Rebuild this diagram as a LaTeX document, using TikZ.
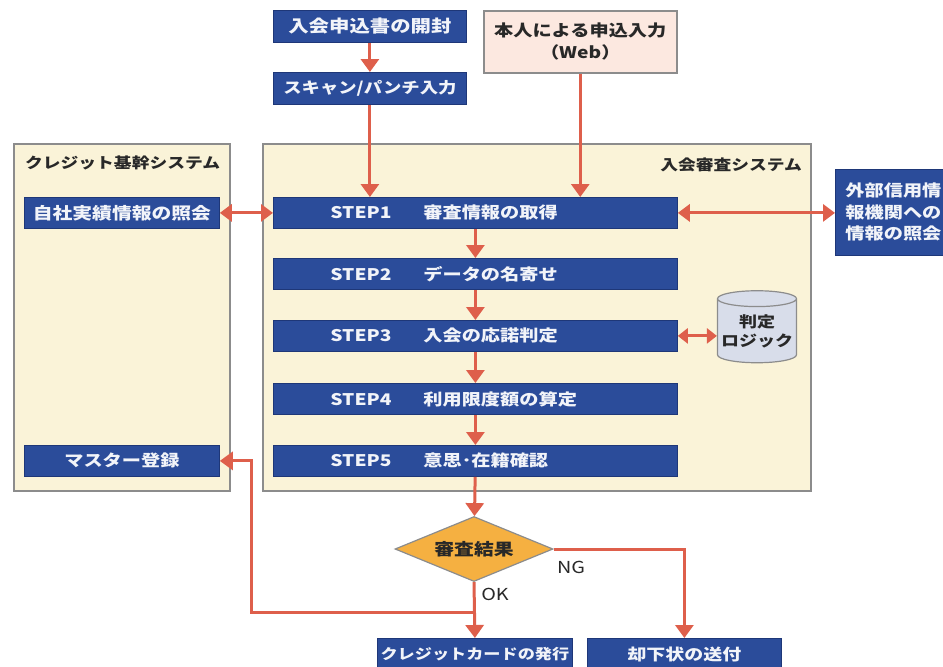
\documentclass[tikz,border=0pt]{standalone}
\usepackage{fontspec}
\setmainfont{Noto Sans CJK JP}[FakeStretch=1.2]
\usetikzlibrary{arrows.meta,shapes.geometric,calc}
\definecolor{navy}{RGB}{43,76,154}
\definecolor{navyedge}{RGB}{30,55,120}
\definecolor{cream}{RGB}{250,243,216}
\definecolor{frame}{RGB}{140,140,140}
\definecolor{arrowc}{RGB}{222,95,75}
\definecolor{pinkfill}{RGB}{252,232,224}
\definecolor{cylfill}{RGB}{216,221,234}
\definecolor{diafill}{RGB}{245,176,65}
\definecolor{darktext}{RGB}{40,40,40}
\newcommand{\fs}[1]{\fontsize{#1}{#1}\selectfont}
\begin{document}
\begin{tikzpicture}[x=1pt,y=-1pt,
  bluebox/.style={fill=navy, draw=navyedge, line width=0.8pt, text=white!94!navy,
    font=\bfseries\fs{16}, inner sep=0pt, minimum height=31pt, anchor=north west},
  stepbox/.style={bluebox, minimum width=404pt, text width=290pt, align=left, inner xsep=57pt, inner ysep=0pt},
  cont/.style={fill=cream, draw=frame, line width=1.5pt, inner sep=0pt, anchor=north west},
  sysTitle/.style={text=darktext, font=\bfseries\fs{14.8}, inner sep=0pt},
  lbl/.style={text=darktext, font=\fs{16.5}, inner sep=0pt},
  flow/.style={draw=arrowc, line width=3pt, -{Triangle[length=13pt,width=18pt]}},
  dflow/.style={draw=arrowc, line width=3pt, {Triangle[length=12pt,width=17pt]}-{Triangle[length=12pt,width=17pt]}},
  dflowsmall/.style={draw=arrowc, line width=3pt, {Triangle[length=10pt,width=15pt]}-{Triangle[length=10pt,width=15pt]}}
]
\clip (0,0) rectangle (943,667);
\fill[white] (0,0) rectangle (943,667);

% containers
\node[cont, minimum width=216pt, minimum height=347pt] (leftsys) at (13,143) {};
\node[cont, minimum width=548pt, minimum height=347pt] (mainsys) at (262,143) {};
\node[sysTitle, anchor=west] (lefttitle) at (25,163) {クレジット基幹システム};
\node[sysTitle, anchor=east] (maintitle) at (802,165) {入会審査システム};

% top
\node[bluebox, minimum width=193pt, minimum height=32pt, font=\bfseries\fs{17}] (open) at (273,10) {入会申込書の開封};
\node[bluebox, minimum width=193pt, minimum height=32pt, font=\bfseries\fs{15.3}] (scan) at (273,72) {スキャン/パンチ入力};
\node[fill=pinkfill, draw=frame, line width=1.5pt, anchor=north west, minimum width=193pt, minimum height=62pt,
  inner sep=0pt, align=center, text=darktext, font=\bfseries\fontsize{16}{22}\selectfont] (web) at (483,10)
  {本人による申込入力\\（Web）};

% left system
\node[bluebox, minimum width=195pt, font=\bfseries\fs{16.5}] (own) at (24,197) {自社実績情報の照会};
\node[bluebox, minimum width=195pt] (master) at (24,445) {マスター登録};

% steps
\node[stepbox] (s1) at (273,197) {\makebox[93pt][l]{STEP1}審査情報の取得};
\node[stepbox] (s2) at (273,258) {\makebox[93pt][l]{STEP2}データの名寄せ};
\node[stepbox] (s3) at (273,320) {\makebox[93pt][l]{STEP3}入会の応諾判定};
\node[stepbox] (s4) at (273,383) {\makebox[93pt][l]{STEP4}利用限度額の算定};
\node[stepbox] (s5) at (273,445) {\makebox[93pt][l]{STEP5}意思･在籍確認};

% external
\node[bluebox, minimum width=130pt, minimum height=86pt, text width=110pt, align=left,
  inner xsep=10pt, inner ysep=0pt, font=\bfseries\fontsize{16}{21.5}\selectfont] (ext) at (835,169)
  {外部信用情\\報機関への\\情報の照会};

% logic cylinder
\node[cylinder, shape border rotate=90, aspect=0.22, minimum width=79pt, minimum height=72pt,
  fill=cylfill, draw=frame, line width=1.2pt, inner sep=0pt, align=center, text=darktext,
  font=\bfseries\fontsize{15}{19}\selectfont] (logic) at (757,331) {判定\\ロジック};

% decision
\node[diamond, aspect=2.4, minimum width=158pt, minimum height=65pt, inner sep=0pt,
  fill=diafill, draw=frame, line width=1.2pt, text=darktext,
  font=\bfseries\fs{16.5}] (judge) at (474,549) {審査結果};

% bottom
\node[bluebox, minimum width=195pt, minimum height=32pt, font=\bfseries\fs{14.3}] (card) at (377,638) {クレジットカードの発行};
\node[bluebox, minimum width=194pt, minimum height=32pt, font=\bfseries\fs{15.8}] (reject) at (587,638) {却下状の送付};

% labels
\node[lbl] (nglbl) at (571,567) {NG};
\node[lbl] (oklbl) at (495,594) {OK};

% connectors
\draw[flow] (open) -- (scan);
\draw[flow] (scan.south) -- (scan.south |- s1.north);
\draw[flow] (web.south) -- (web.south |- s1.north);
\draw[dflow] (own.east) -- (own.east -| s1.west);
\draw[dflow] (s1.east) -- (s1.east -| ext.west);
\draw[flow] (s1) -- (s2);
\draw[flow] (s2) -- (s3);
\draw[dflowsmall] (s3.east) -- (s3.east -| logic.west);
\draw[flow] (s3) -- (s4);
\draw[flow] (s4) -- (s5);
\draw[flow] (s5) -- (judge);
\draw[flow] (judge.east) -| (reject.north);
\draw[flow] (judge.south) -- (card.north);
\coordinate (okbranch) at ($(judge.south)!0.55!(card.north)$);
\draw[flow] (okbranch) -- ([xshift=21pt]okbranch -| leftsys.east) |- (master.east);
\end{tikzpicture}
\end{document}
